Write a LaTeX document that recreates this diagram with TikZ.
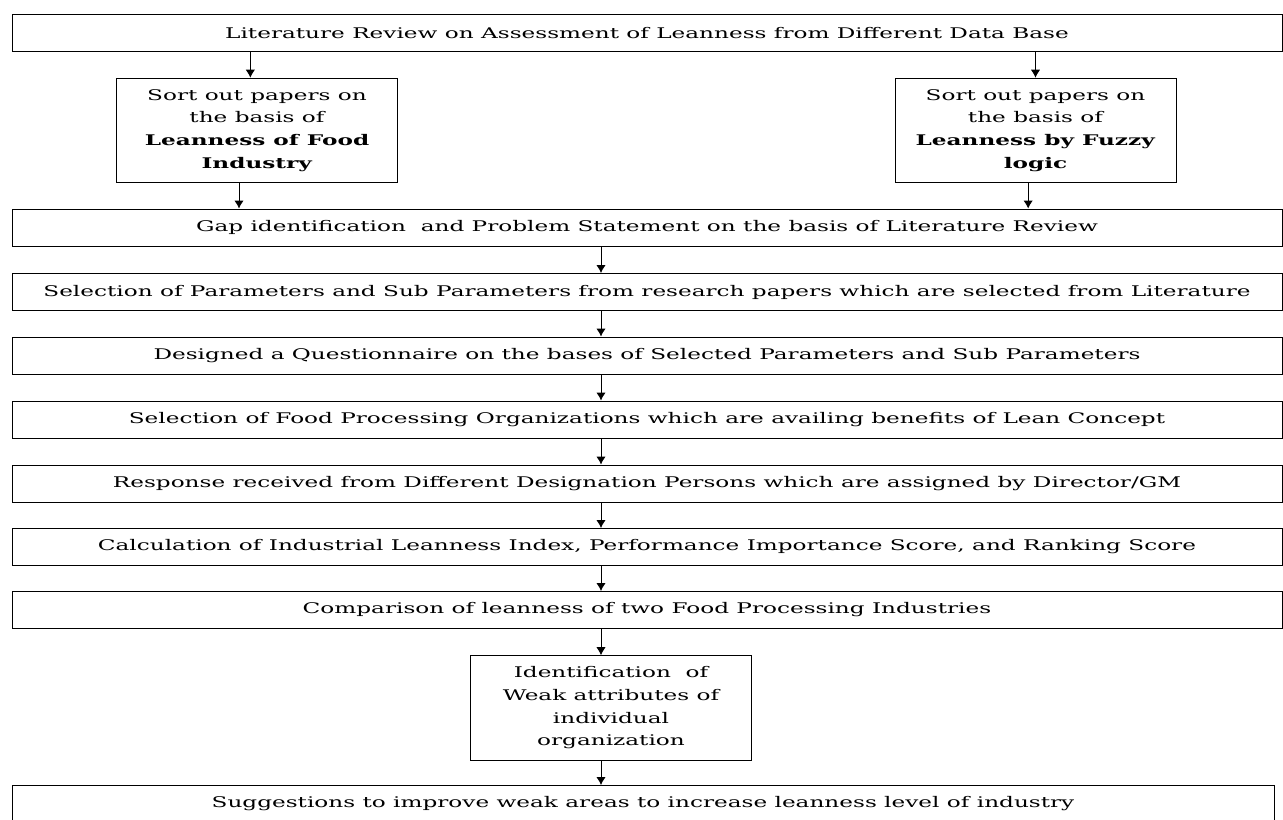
\documentclass[tikz,border=0pt]{standalone}
\usepackage{fontspec}
\setmainfont{DejaVu Serif}[FakeStretch=1.58]
\usepackage{tikz}
\usetikzlibrary{arrows.meta}

\begin{document}
\begin{tikzpicture}[x=0.75pt,y=-0.75pt]
			\tikzset{align=center,font=\fontsize{11}{17}\selectfont}
			
			\tikzset{wide/.style = {shape=rectangle,draw,line width=0.7pt,minimum width=952.5pt,minimum height=27.75pt,inner sep=0pt}}
			
			\tikzset{sub/.style = {shape=rectangle,draw,line width=0.7pt,minimum width=210.75pt,minimum height=78.5pt,inner sep=0pt}}
			
			\tikzset{edge/.style = {-{Latex[length=6pt,width=7pt]},line width=0.7pt}}
			
			\useasboundingbox (0,0) rectangle (1283,819);
			
			% boxes
			
			\node[wide] (lit) at  (647,33) {Literature Review on Assessment of Leanness from Different Data Base};
			
			\node[sub] (lsub) at  (257,130.5) {Sort out papers on\\the basis of\\\textbf{Leanness of Food}\\\textbf{Industry}};
			
			\node[sub] (rsub) at  (1035.5,130.5) {Sort out papers on\\the basis of\\\textbf{Leanness by Fuzzy}\\\textbf{logic}};
			
			\node[wide] (gap) at  (647,227.5) {Gap identification\ \ and Problem Statement on the basis of Literature Review};
			
			\node[wide] (par) at  (647,292) {Selection of Parameters and Sub Parameters from research papers which are selected from Literature};
			
			\node[wide] (ques) at  (647,355.5) {Designed a Questionnaire on the bases of Selected Parameters and Sub Parameters};
			
			\node[wide] (org) at  (647,419.5) {Selection of Food Processing Organizations which are availing benefits of Lean Concept};
			
			\node[wide] (resp) at  (647,483.5) {Response received from Different Designation Persons which are assigned by Director/GM};
			
			\node[wide] (calc) at  (647,547) {Calculation of Industrial Leanness Index, Performance Importance Score, and Ranking Score};
			
			\node[wide] (comp) at  (647,610) {Comparison of leanness of two Food Processing Industries};
			
			\node[sub] (weak) at  (611,708) {Identification\ \ of\\Weak attributes of\\individual\\organization};
			
			\node[wide,minimum width=946.5pt] (sugg) at  (643,804) {Suggestions to improve weak areas to increase leanness level of industry};
			
			\coordinate (col) at (601,0);
			
			%edges
			
			\begin{scope}
			\draw[edge] ([xshift=-5pt]lsub.north |- lit.south) -- ([xshift=-5pt]lsub.north);
			\draw[edge] (rsub |- lit.south) -- (rsub.north);
			\draw[edge] ([xshift=-13.5pt]lsub.south) -- ([xshift=-13.5pt]lsub.south |- gap.north);
			\draw[edge] ([xshift=-5.5pt]rsub.south) -- ([xshift=-5.5pt]rsub.south |- gap.north);
			\draw[edge] (col |- gap.south) -- (col |- par.north);
			\draw[edge] (col |- par.south) -- (col |- ques.north);
			\draw[edge] (col |- ques.south) -- (col |- org.north);
			\draw[edge] (col |- org.south) -- (col |- resp.north);
			\draw[edge] (col |- resp.south) -- (col |- calc.north);
			\draw[edge] (col |- calc.south) -- (col |- comp.north);
			\draw[edge] (col |- comp.south) -- (col |- weak.north);
			\draw[edge] (col |- weak.south) -- (col |- sugg.north);
			\end{scope}
			\end{tikzpicture}
\end{document}
